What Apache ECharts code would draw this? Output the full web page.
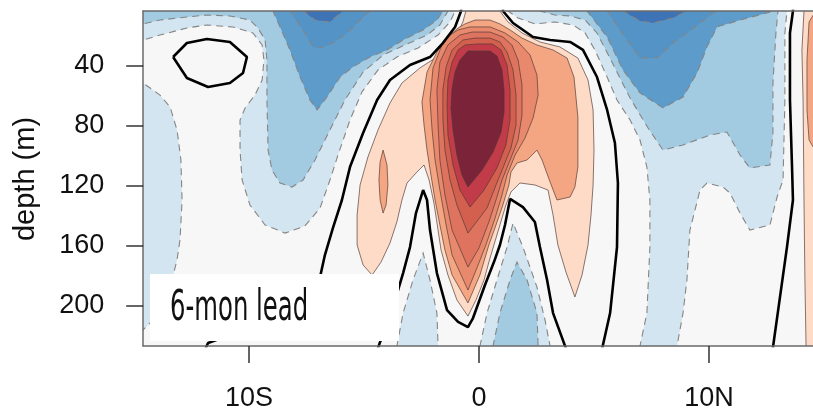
<!DOCTYPE html>
<html><head><meta charset="utf-8">
<script src="https://cdn.jsdelivr.net/npm/echarts@6/dist/echarts.min.js"></script>
<style>html,body{margin:0;padding:0;background:#fff;}#c{width:813px;height:408px;}</style>
</head><body><div id="c"></div>
<script>
// ---- axis ticks ----
const latTicks = [-10, 0, 10];
const latTickLabels = ['10S', '0', '10N'];
const depthTicks = [40, 80, 120, 160, 200];

// ---- contour regions, [latitude, depth m] ----
// negative levels (1 = weakest)
const neg1_west = [[-16,-5],[-1.04,-5],[-1.04,3.8],[-1.26,11.1],[-1.78,19.8],[-2.65,28.4],[-3.57,34.4],[-4.39,43.0],[-5.09,57.7],[-5.61,76.3],[-6.13,99.6],[-6.48,116.2],[-6.91,134.8],[-7.57,146.8],[-8.43,151.5],[-9.30,146.1],[-9.96,132.8],[-10.30,116.2],[-10.39,96.3],[-10.39,76.3],[-10.17,68.3],[-9.74,59.7],[-9.43,49.7],[-9.35,36.4],[-9.43,26.4],[-9.83,18.4],[-10.70,14.4],[-11.83,13.1],[-12.70,15.1],[-13.87,19.8],[-14.61,23.1],[-16,23.1],[-16,51.7],[-14.61,51.7],[-14.30,55.0],[-13.87,59.7],[-13.43,67.7],[-13.13,82.9],[-12.96,102.9],[-12.91,129.5],[-13.00,156.1],[-13.13,169.4],[-13.35,182.7],[-13.65,196.0],[-14.09,208.0],[-14.39,212.6],[-14.61,216.0],[-16,220.0]];
const neg1_east = [[1.26,-5],[1.26,3.8],[1.70,8.5],[2.43,12.4],[3.30,11.1],[4.09,13.1],[4.61,18.4],[5.04,29.7],[5.57,47.7],[6.00,63.0],[6.57,76.3],[7.00,89.6],[7.30,107.6],[7.43,129.5],[7.43,160.8],[7.30,204.7],[7.00,226.6],[7.00,235],[8.61,235],[8.61,226.6],[8.87,204.7],[9.04,182.7],[9.17,149.5],[9.61,122.9],[9.91,118.2],[10.61,120.9],[10.91,124.8],[11.35,138.2],[11.78,149.5],[12.65,146.1],[12.96,127.5],[13.22,116.2],[13.30,63.0],[13.30,18.4],[13.39,3.8],[13.39,-5]];
const neg1_tongueA = [[-3.57,235],[-3.57,226.6],[-3.30,204.7],[-2.87,182.7],[-2.43,164.8],[-2.13,182.7],[-1.83,204.7],[-1.78,226.6],[-1.78,235]];
const neg1_tongueB = [[0.04,235],[0.04,226.6],[0.35,204.7],[0.78,182.7],[1.22,160.8],[1.48,144.8],[1.91,160.8],[2.52,187.4],[2.87,209.3],[3.09,226.6],[3.09,235]];
const neg2_west = [[-16,-5],[-16,12.4],[-14.61,12.4],[-13.87,9.8],[-12.70,7.8],[-11.83,6.5],[-10.83,7.1],[-9.96,9.8],[-9.61,15.1],[-9.30,23.1],[-9.22,36.4],[-9.22,63.0],[-9.17,96.3],[-9.00,109.6],[-8.65,118.2],[-8.13,120.9],[-7.65,116.2],[-7.13,102.9],[-6.48,82.9],[-5.83,63.0],[-5.04,44.4],[-4.17,33.1],[-3.22,26.4],[-2.26,19.8],[-1.70,13.1],[-1.35,3.8],[-1.35,-5]];
const neg2_east = [[2.65,-5],[2.65,3.8],[3.30,6.5],[3.96,7.1],[4.61,9.8],[5.13,18.4],[5.78,37.7],[6.57,61.7],[7.35,81.6],[8.00,96.3],[8.87,92.9],[10.04,86.3],[10.78,84.3],[11.35,99.6],[11.78,108.2],[12.65,106.2],[12.78,84.9],[12.78,51.7],[12.91,18.4],[13.0,3.8],[13.0,-5]];
const neg2_tongueB = [[0.61,235],[0.61,226.6],[0.91,204.7],[1.35,182.7],[1.65,170.8],[2.09,182.7],[2.52,204.7],[2.57,226.6],[2.57,235]];
const neg3_west = [[-8.96,-5],[-8.96,3.8],[-8.65,14.4],[-8.22,29.7],[-7.78,47.7],[-7.35,63.0],[-7.04,69.6],[-6.61,61.0],[-6.04,47.7],[-5.48,41.0],[-4.74,34.4],[-4.00,29.7],[-3.30,23.1],[-2.43,16.4],[-1.83,9.8],[-1.57,3.8],[-1.57,-5]];
const neg3_east = [[4.70,-5],[4.70,3.8],[5.57,21.1],[6.26,43.0],[7.00,58.3],[8.00,68.3],[8.87,61.0],[9.48,45.0],[9.91,27.7],[10.35,14.4],[11.35,9.8],[12.52,5.1],[12.78,3.8],[12.78,-5]];
const neg4_west = [[-8.22,-5],[-8.22,3.8],[-7.65,16.4],[-7.22,27.7],[-6.91,28.4],[-6.35,25.1],[-5.74,18.4],[-5.17,9.8],[-4.74,3.8],[-4.74,-5]];
const neg4_east = [[5.57,-5],[5.57,3.8],[6.13,16.4],[7.00,35.1],[7.74,35.1],[8.43,25.1],[9.04,18.4],[10.17,5.1],[10.35,3.8],[10.35,-5]];
const neg5_west = [[-7.65,-5],[-7.65,3.8],[-7.13,9.8],[-6.48,11.1],[-5.91,3.8],[-5.91,-5]];
const neg5_east = [[6.26,-5],[6.26,3.8],[7.00,10.5],[7.57,11.8],[8.43,8.5],[9.04,3.8],[9.04,-5]];
// positive levels (1 = weakest)
const pos1_main = [[-0.57,-5],[-0.57,3.8],[-0.70,11.1],[-1.04,21.8],[-1.70,33.1],[-2.57,41.7],[-3.35,51.7],[-3.87,65.0],[-4.39,82.9],[-4.83,100.9],[-5.17,119.5],[-5.30,139.5],[-5.30,159.4],[-5.04,172.7],[-4.65,179.4],[-4.26,170.8],[-3.87,158.1],[-3.57,144.1],[-3.35,129.5],[-3.13,118.2],[-2.70,110.9],[-2.39,106.2],[-2.17,116.2],[-1.96,131.5],[-1.78,149.5],[-1.65,162.8],[-1.35,179.4],[-0.96,196.0],[-0.48,206.7],[-0.13,196.0],[0.22,182.7],[0.43,170.8],[0.65,159.4],[0.91,146.1],[1.17,132.8],[1.39,124.2],[1.78,118.2],[2.43,119.5],[3.00,122.9],[3.22,139.5],[3.43,159.4],[3.78,177.4],[4.17,194.0],[4.48,179.4],[4.74,159.4],[4.87,139.5],[4.96,119.5],[5.00,96.3],[4.96,69.6],[4.74,49.7],[4.30,35.1],[3.52,27.7],[2.65,24.4],[1.87,18.4],[1.26,11.1],[0.91,3.8],[0.91,-5]];
const pos1_east = [[14.13,-5],[14.13,3.8],[14.04,29.7],[14.09,63.0],[14.13,129.5],[14.17,182.7],[14.22,226.6],[14.22,235],[16,235],[16,-5]];
const pos2_main = [[-0.61,12.4],[-0.17,9.8],[0.48,9.8],[0.91,12.4],[1.35,16.4],[1.87,21.8],[2.52,26.4],[3.22,29.7],[3.83,35.1],[4.13,47.7],[4.30,74.3],[4.30,107.6],[4.17,120.9],[3.96,127.5],[3.39,129.5],[3.09,117.5],[2.74,102.9],[2.52,96.3],[2.09,102.9],[1.65,104.9],[1.39,110.9],[1.30,119.5],[1.04,132.8],[0.74,146.1],[0.43,159.4],[0.04,179.4],[-0.48,198.0],[-1.17,179.4],[-1.48,162.8],[-1.70,146.1],[-1.91,129.5],[-2.09,112.9],[-2.26,96.3],[-2.39,79.6],[-2.48,64.3],[-2.26,44.4],[-1.83,31.1],[-1.26,19.8],[-0.91,15.1]];
const pos2_blob = [[-4.17,96.3],[-4.00,106.2],[-3.96,119.5],[-4.04,132.8],[-4.17,138.2],[-4.30,129.5],[-4.35,116.2],[-4.30,104.2]];
const pos2_east = [[14.61,-5],[14.61,4.5],[14.35,11.1],[14.26,36.4],[14.26,69.6],[14.35,89.6],[14.61,96.3],[16,96.3],[16,-5]];
const pos3_core = [[-0.91,16.4],[-0.39,14.4],[0.48,14.4],[1.13,18.4],[1.70,24.4],[2.22,33.1],[2.52,46.4],[2.57,59.7],[2.35,75.0],[2.00,88.3],[1.57,99.6],[1.22,112.9],[1.00,126.2],[0.70,141.5],[0.30,159.4],[-0.09,174.7],[-0.48,189.4],[-1.17,166.1],[-1.43,146.1],[-1.70,122.9],[-1.91,102.9],[-2.04,82.9],[-2.13,63.0],[-2.00,41.7],[-1.61,26.4],[-1.26,19.8]];
const pos4_core = [[-0.83,19.8],[-0.30,17.8],[0.48,17.8],[1.04,21.1],[1.43,26.4],[1.70,36.4],[1.87,53.0],[1.87,73.0],[1.70,89.6],[1.35,102.9],[1.00,116.2],[0.74,129.5],[0.43,144.1],[0.00,161.4],[-0.48,174.1],[-1.17,149.5],[-1.48,126.2],[-1.70,102.9],[-1.78,79.6],[-1.83,56.3],[-1.70,37.7],[-1.35,26.4]];
const pos5_core = [[-0.70,23.1],[-0.17,21.8],[0.48,21.8],[0.91,24.4],[1.22,31.1],[1.48,43.0],[1.61,59.7],[1.61,79.6],[1.39,94.9],[1.04,108.2],[0.74,119.5],[0.35,134.8],[-0.48,151.5],[-0.96,132.8],[-1.26,116.2],[-1.48,96.3],[-1.57,76.3],[-1.57,56.3],[-1.43,41.0],[-1.17,29.7]];
const pos6_core = [[-0.61,26.4],[-0.04,25.7],[0.57,25.7],[0.96,29.7],[1.22,39.7],[1.35,56.3],[1.35,76.3],[1.17,92.9],[0.78,108.2],[0.22,122.9],[-0.39,134.2],[-0.83,122.9],[-1.13,106.2],[-1.35,86.3],[-1.39,66.3],[-1.35,49.7],[-1.17,37.7],[-0.91,29.7]];
const pos7_core = [[-0.48,30.4],[0.48,30.4],[0.78,33.7],[1.00,43.0],[1.09,56.3],[1.09,71.0],[0.96,84.3],[0.61,97.6],[0.13,109.6],[-0.48,120.9],[-0.74,112.9],[-0.96,99.6],[-1.13,82.9],[-1.22,68.3],[-1.17,55.0],[-1.04,44.4],[-0.83,36.4]];
// zero contour lines
const zero_west = [[-0.74,-5],[-0.78,3.8],[-1.04,14.4],[-1.57,25.1],[-2.13,34.4],[-3.00,39.7],[-3.87,49.7],[-4.43,63.0],[-5.04,84.9],[-5.61,107.6],[-5.96,129.5],[-6.35,148.1],[-6.70,166.1],[-6.91,180.7],[-7.57,196.0],[-9.09,209.3],[-10.83,219.3],[-11.78,224.6],[-12.00,232]];
const zero_mid = [[-4.48,232],[-4.30,223.9],[-3.87,209.3],[-3.52,189.4],[-3.30,178.1],[-3.00,160.8],[-2.74,138.2],[-2.43,122.9],[-2.26,129.5],[-2.13,149.5],[-1.83,178.1],[-1.39,202.7],[-0.91,210.6],[-0.48,214.0],[-0.26,208.0],[0.26,186.0],[0.65,170.8],[0.91,159.4],[1.13,146.1],[1.35,128.8],[1.91,134.2],[2.43,144.1],[2.65,160.8],[2.96,182.7],[3.22,204.7],[3.87,232]];
const zero_east = [[1.04,-5],[1.04,3.8],[1.48,11.8],[2.35,21.1],[3.09,23.1],[3.96,24.4],[4.52,29.7],[5.13,47.7],[5.57,69.6],[5.91,91.6],[6.04,118.2],[6.00,160.8],[5.70,204.7],[5.30,232]];
const zero_far = [[13.65,-5],[13.65,3.8],[13.52,18.4],[13.52,63.0],[13.61,107.6],[13.65,129.5],[13.39,160.8],[12.74,232]];
const zero_loop = [[-13.30,34.4],[-12.70,25.1],[-11.83,22.4],[-10.83,24.4],[-10.09,34.4],[-10.26,45.0],[-10.83,51.7],[-11.78,54.3],[-12.70,48.4],[-13.30,34.4]];

// ---- styling (not data) ----
const negColors = ['#d2e5f0', '#a2cbe2', '#5c9bca', '#5493c5', '#3e73b5'];
const posColors = ['#fddbc7', '#f4a582', '#e8896d', '#de745f', '#d3604f', '#c23b49', '#7a2339'];
const negStroke = {stroke: '#858585', lineWidth: 1.1, lineDash: [7, 5]};
const posStroke = {stroke: 'rgba(80,55,50,0.75)', lineWidth: 0.9, lineDash: null};

const fills = [
  [neg1_west, 'n', 0], [neg1_east, 'n', 0], [neg1_tongueA, 'n', 0], [neg1_tongueB, 'n', 0],
  [neg2_west, 'n', 1], [neg2_east, 'n', 1], [neg2_tongueB, 'n', 1],
  [neg3_west, 'n', 2], [neg3_east, 'n', 2],
  [neg4_west, 'n', 3], [neg4_east, 'n', 3],
  [neg5_west, 'n', 4], [neg5_east, 'n', 4],
  [pos1_main, 'p', 0], [pos1_east, 'p', 0],
  [pos2_main, 'p', 1], [pos2_blob, 'p', 1], [pos2_east, 'p', 1],
  [pos3_core, 'p', 2], [pos4_core, 'p', 3], [pos5_core, 'p', 4], [pos6_core, 'p', 5], [pos7_core, 'p', 6]
];
const zeroLines = [zero_west, zero_mid, zero_east, zero_far, zero_loop];

const FONT = '"Liberation Sans", Arial, Helvetica, sans-serif';
const chart = echarts.init(document.getElementById('c'), null, {renderer: 'canvas'});

const series = [{
  type: 'custom',
  coordinateSystem: 'cartesian2d',
  clip: true,
  silent: true,
  z: 2,
  encode: {x: 0, y: 1},
  data: fills.map(() => [0, 100]),
  renderItem: function (params, api) {
    const f = fills[params.dataIndex];
    const pts = f[0].map(p => api.coord(p));
    const st = f[1] === 'n' ? negStroke : posStroke;
    const fill = f[1] === 'n' ? negColors[f[2]] : posColors[f[2]];
    return {
      type: 'polygon',
      z2: params.dataIndex,
      shape: {points: pts},
      style: {fill: fill, stroke: st.stroke, lineWidth: st.lineWidth, lineDash: st.lineDash}
    };
  }
}];
zeroLines.forEach(function (ln) {
  series.push({
    type: 'line', data: ln, symbol: 'none', smooth: false, clip: true, silent: true, z: 3,
    lineStyle: {color: '#000', width: 2.6}, animation: false
  });
});

chart.setOption({
  animation: false,
  grid: {left: 143.2, top: 11, width: 671.6, height: 335, show: true, backgroundColor: '#f7f7f7', borderWidth: 0,
    containLabel: false, outerBoundsMode: 'none'},
  xAxis: [{
    type: 'value', min: -14.6, max: 14.6, position: 'bottom', z: 10,
    axisLine: {show: true, onZero: false, lineStyle: {color: '#6a6a6a', width: 1.5}},
    axisTick: {show: true, inside: false, length: 17, customValues: latTicks, lineStyle: {color: '#333', width: 1.5}},
    axisLabel: {show: true, customValues: latTicks, margin: 39, fontSize: 27, fontFamily: FONT, color: '#111',
      formatter: function (v) { const i = latTicks.indexOf(v); return i >= 0 ? latTickLabels[i] : ''; }},
    splitLine: {show: false}
  }, {
    type: 'value', min: -14.6, max: 14.6, position: 'top', z: 10,
    axisLine: {show: true, onZero: false, lineStyle: {color: '#6a6a6a', width: 1.5}},
    axisTick: {show: false}, axisLabel: {show: false}, splitLine: {show: false}
  }],
  yAxis: {
    type: 'value', inverse: true, min: 3.8, max: 226.6, z: 10,
    axisLine: {show: true, onZero: false, lineStyle: {color: '#6a6a6a', width: 1.5}},
    axisTick: {show: true, inside: false, length: 17, customValues: depthTicks, lineStyle: {color: '#333', width: 1.5}},
    axisLabel: {show: true, customValues: depthTicks, margin: 39, fontSize: 27, fontFamily: FONT, color: '#111',
      padding: [5, 0, 0, 0]},
    splitLine: {show: false}
  },
  graphic: [
    {type: 'text', x: 26, y: 179, rotation: Math.PI / 2, z: 100,
      style: {text: 'depth (m)', font: '29px ' + FONT, fill: '#111', align: 'center', verticalAlign: 'middle'}},
    {type: 'rect', z: 100, shape: {x: 150, y: 274, width: 249, height: 67}, style: {fill: '#ffffff'}},
    {type: 'text', z: 101, x: 170, y: 309, scaleX: 0.58,
      style: {text: '6-mon lead', x: 0, y: 0, font: '42px "DejaVu Sans", sans-serif', fill: '#111', align: 'left', verticalAlign: 'middle'}}
  ],
  series: series
});
</script>
</body></html>
